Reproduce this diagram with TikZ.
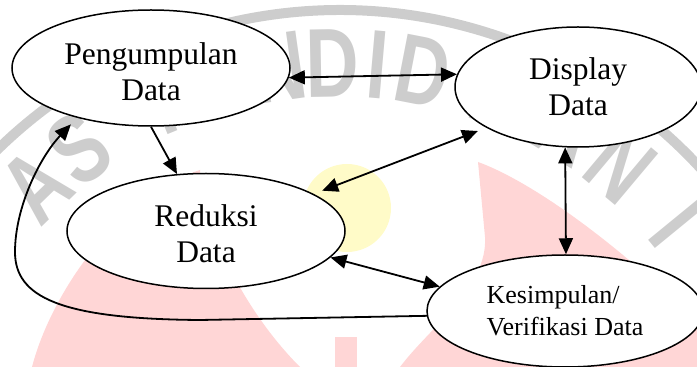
\documentclass[tikz,border=0pt]{standalone}
\usepackage{fontspec}
\usepackage{graphicx}
\setmainfont{Liberation Serif}
\setsansfont{Liberation Sans}
\usetikzlibrary{shapes.geometric,arrows.meta,calc}
\definecolor{wmpink}{RGB}{255,214,214}
\definecolor{wmyellow}{RGB}{255,251,200}
\definecolor{wmgray}{RGB}{205,205,205}
\begin{document}
\begin{tikzpicture}[x=1pt,y=1pt,
  proc/.style={ellipse, draw, line width=1.5pt, fill=white, inner sep=0pt, align=center,
    font=\fontsize{31.5}{36}\selectfont},
  tip/.tip={Triangle[length=16pt,width=14pt]},
  link/.style={line width=1.8pt, -tip},
  both/.style={line width=1.8pt, tip-tip},
  wmletter/.style={text=wmgray, font=\sffamily\bfseries\fontsize{98}{98}\selectfont, inner sep=0pt}]
\useasboundingbox (0,0) rectangle (697,367);
% watermark
\begin{scope}
  \clip (0,0) rectangle (697,367);
  \fill[wmpink] (32,0) .. controls (50,70) and (115,170) .. (200,197)
                .. controls (205,130) and (250,50) .. (300,0) -- cycle;
  \fill[wmpink] (335,0) rectangle (357,30);
  \fill[wmpink] (400,0) .. controls (430,40) and (488,80) .. (485,130) -- (478,205)
                .. controls (520,190) and (600,140) .. (697,45) -- (697,0) -- cycle;
  \fill[wmyellow] (347,159) circle (44);
  \draw[wmgray, line width=10pt] (340,-133) ++(40:490) arc (40:140:490);
  \foreach \ch/\a [count=\i] in {A/134.1,S/126.6,P/112.5,E/105,N/98,D/91,I/85,D/79,I/70.5,K/65,A/58.5,N/50,I/39.3}
    \node[wmletter, rotate=\a-90] (wm\i) at ($(340,-133)+(\a:437)$) {\scalebox{0.75}[1]{\ch}};
\end{scope}
% processes
\node[proc, minimum width=278pt, minimum height=116pt] (P) at (151,299) {\rule{0pt}{30pt}Pengumpulan\\Data};
\node[proc, minimum width=246pt, minimum height=120pt] (D) at (578,280) {Display\\Data};
\node[proc, minimum width=278pt, minimum height=115pt] (R) at (206,136) {\rule{0pt}{27pt}Reduksi\\Data};
\node[proc, minimum width=276pt, minimum height=112pt, align=left,
      font=\fontsize{26}{32}\selectfont] (K) at (565,56) {Kesimpulan/\\Verifikasi Data};
% connectors
\draw[both] (P.356.7) -- (D.174.8);
\draw[link] (P.270.5) -- (R.117);
\draw[both, shorten <=9pt, shorten >=9pt] (R.19.6) -- (D.204.7);
\draw[both] (D.258.5) -- (K.89);
\draw[both] (R.348.2) -- (K.169.8);
\draw[link, shorten >=9pt] (K.182.5) -- (200,47) .. controls (60,48) and (15,70) .. (15,115)
      .. controls (15,160) and (40,210) .. (P.214);
\end{tikzpicture}
\end{document}
